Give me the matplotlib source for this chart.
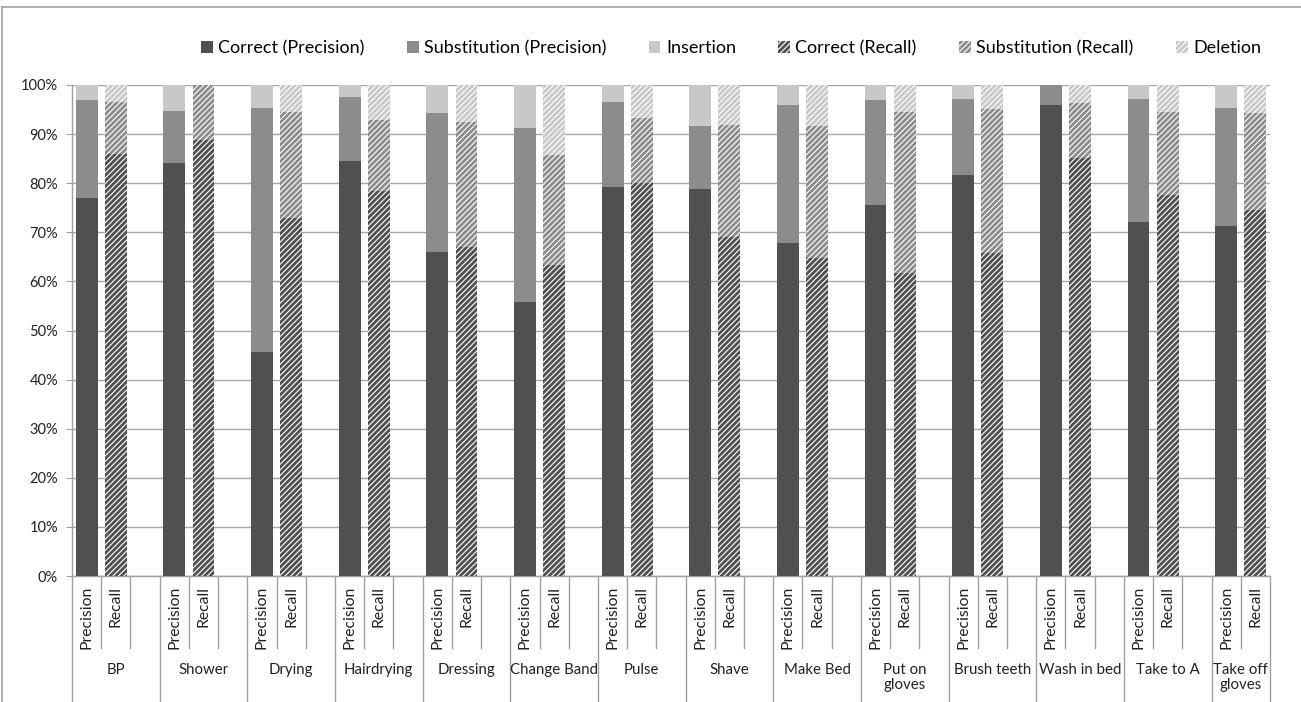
import matplotlib
matplotlib.use("Agg")
import matplotlib.pyplot as plt
from matplotlib.patches import Patch
from matplotlib.lines import Line2D
import matplotlib.transforms as mtrans
import numpy as np

plt.rcParams['font.family'] = ['Lato', 'DejaVu Sans']
plt.rcParams['hatch.linewidth'] = 0.8

activities = ["BP", "Shower", "Drying", "Hairdrying", "Dressing", "Change Band", "Pulse",
              "Shave", "Make Bed", "Put on\ngloves", "Brush teeth", "Wash in bed",
              "Take to A", "Take off\ngloves"]
# percentages
correct_precision = [76.9, 84.2, 45.6, 84.6, 66.0, 55.8, 79.3, 78.8, 67.9, 75.5, 81.7, 96.0, 72.1, 71.2]
subst_precision   = [20.0, 10.6, 49.8, 12.9, 28.2, 35.4, 17.3, 12.9, 28.1, 21.4, 15.5, 4.0, 25.1, 24.2]
insertion         = [3.1, 5.2, 4.6, 2.5, 5.8, 8.8, 3.4, 8.3, 4.0, 3.1, 2.8, 0.0, 2.8, 4.6]
correct_recall    = [86.0, 88.8, 73.0, 78.4, 67.0, 63.4, 80.0, 69.1, 64.8, 61.8, 65.7, 85.1, 77.5, 74.6]
subst_recall      = [10.6, 11.2, 21.4, 14.5, 25.4, 22.3, 13.3, 22.8, 26.9, 32.6, 29.4, 11.2, 16.9, 19.6]
deletion          = [3.4, 0.0, 5.6, 7.1, 7.6, 14.3, 6.7, 8.1, 8.3, 5.6, 4.9, 3.7, 5.6, 5.8]
sub_labels = ["Precision", "Recall"]
legend_labels = ["Correct (Precision)", "Substitution (Precision)", "Insertion",
                 "Correct (Recall)", "Substitution (Recall)", "Deletion"]
yticks = [0, 10, 20, 30, 40, 50, 60, 70, 80, 90, 100]

c_dark, c_mid, c_light = "#505050", "#8c8c8c", "#c8c8c8"
HATCH = "//////"

W, H = 1301, 702
fig = plt.figure(figsize=(W / 100, H / 100), dpi=100)
ax = fig.add_axes([72 / W, 1 - 576 / H, (1270 - 72) / W, (576 - 85) / H])

n = len(activities)
nslots = 3 * n - 1
xp = np.arange(n) * 3 + 0.5
xr = np.arange(n) * 3 + 1.5
bw = 0.75

cp = np.array(correct_precision); sp = np.array(subst_precision); ins = np.array(insertion)
cr = np.array(correct_recall); sr = np.array(subst_recall); de = np.array(deletion)

ax.bar(xp, cp, bw, color=c_dark, zorder=3)
ax.bar(xp, sp, bw, bottom=cp, color=c_mid, zorder=3)
ax.bar(xp, ins, bw, bottom=cp + sp, color=c_light, zorder=3)
ax.bar(xr, cr, bw, color=c_dark, edgecolor="white", linewidth=0, hatch=HATCH, zorder=3)
ax.bar(xr, sr, bw, bottom=cr, color=c_mid, edgecolor="white", linewidth=0, hatch=HATCH, zorder=3)
ax.bar(xr, de, bw, bottom=cr + sr, color=c_light, edgecolor="white", linewidth=0, hatch=HATCH, zorder=3)

ax.set_xlim(0, nslots)
ax.set_ylim(0, 100)
ax.set_yticks(yticks)
ax.set_yticklabels([f"{v}%" for v in yticks], fontsize=10.5, color="#222222")
ax.tick_params(axis="y", length=4, color="#a0a0a0", pad=6)
ax.set_xticks([])
ax.grid(axis="y", color="#a6a6a6", linewidth=1, zorder=0)
for s in ["top", "right"]:
    ax.spines[s].set_visible(False)
ax.spines["left"].set_color("#a0a0a0")
ax.spines["bottom"].set_color("#a0a0a0")
ax.spines["left"].set_linewidth(1)
ax.spines["bottom"].set_linewidth(1)

trans = mtrans.blended_transform_factory(ax.transData, ax.transAxes)
ah = 576 - 85
def py(p):
    return (576 - p) / ah

# separators
for b in range(nslots + 1):
    is_group = (b % 3 == 0) or b == nslots
    y1 = py(702) if is_group else py(648)
    ax.add_line(Line2D([b, b], [0, y1], transform=trans, color="#a0a0a0",
                       linewidth=1, clip_on=False))

for i in range(n):
    for j, lab in enumerate(sub_labels):
        ax.text(3 * i + 0.5 + j, py(586), lab, transform=trans, rotation=90,
                ha="center", va="top", fontsize=11.3, color="#222222")
    cx = 3 * i + 1.5 if i < n - 1 else 3 * i + 1.0
    ax.text(cx, py(663), activities[i], transform=trans, ha="center", va="top",
            fontsize=10.8, color="#222222", linespacing=1.1)

handles = [Patch(facecolor=c_dark), Patch(facecolor=c_mid), Patch(facecolor=c_light),
           Patch(facecolor=c_dark, edgecolor="white", linewidth=0, hatch=HATCH),
           Patch(facecolor=c_mid, edgecolor="white", linewidth=0, hatch=HATCH),
           Patch(facecolor=c_light, edgecolor="white", linewidth=0, hatch=HATCH)]
fig.legend(handles, legend_labels, loc="center", bbox_to_anchor=(731 / W, 1 - 48 / H),
           ncol=6, frameon=False, fontsize=13, handlelength=0.65, handleheight=0.65,
           handletextpad=0.3, columnspacing=2.35)

# chart border
fig.add_artist(Line2D([2 / W, 1.0], [1 - 7 / H, 1 - 7 / H], transform=fig.transFigure,
                      color="#a0a0a0", linewidth=1.2))
fig.add_artist(Line2D([2 / W, 2 / W], [0, 1 - 7 / H], transform=fig.transFigure,
                      color="#a0a0a0", linewidth=1.2))

fig.savefig("out.png", dpi=100)
